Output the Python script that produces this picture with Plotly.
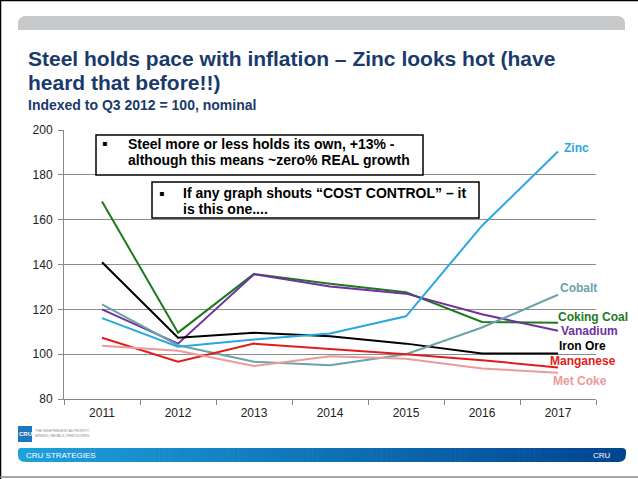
import plotly.graph_objects as go

# ---------------- data ----------------
years = ["2011", "2012", "2013", "2014", "2015", "2016", "2017"]
zinc = [116.1, 103.3, 106.5, 109.2, 116.9, 157.3, 190.4]
coking_coal = [168.1, 109.6, 135.8, 131.4, 127.6, 114.4, 114.0]
vanadium = [120.0, 104.7, 135.6, 130.2, 127.0, 117.8, 110.4]
iron_ore = [141.0, 107.3, 109.5, 108.0, 104.7, 100.3, 100.3]
cobalt = [122.2, 104.0, 96.6, 95.1, 100.0, 111.9, 126.5]
manganese = [107.3, 96.6, 104.7, 102.5, 100.0, 97.3, 94.1]
met_coke = [103.7, 101.5, 94.7, 99.1, 98.0, 93.6, 91.7]

series_names = ["Coking Coal", "Vanadium", "Iron Ore", "Cobalt", "Manganese", "Met Coke", "Zinc"]
series_values = [coking_coal, vanadium, iron_ore, cobalt, manganese, met_coke, zinc]

title_line1 = "Steel holds pace with inflation \u2013 Zinc looks hot (have"
title_line2 = "heard that before!!)"
subtitle = "Indexed to Q3 2012 = 100, nominal"
box1_lines = ["Steel more or less holds its own, +13% -", "although this means ~zero% REAL growth"]
box2_lines = ["If any graph shouts \u201cCOST CONTROL\u201d \u2013 it", "is this one...."]

# ---------------- styles ----------------
W, H = 638, 479
L, R, T, B = 64, 42, 130, 80
PW, PH = W - L - R, H - T - B

colors = {
    "Zinc": "#2aa8e0",
    "Coking Coal": "#1c7a1c",
    "Vanadium": "#7030a0",
    "Iron Ore": "#000000",
    "Cobalt": "#68a4a9",
    "Manganese": "#e41b1b",
    "Met Coke": "#ec9a9a",
}
# label offsets (pixels) relative to the 2017 end point
label_shift = {
    "Zinc": (4, 4),
    "Cobalt": (0, 7),
    "Coking Coal": (-2, 6),
    "Vanadium": (1, 0),
    "Iron Ore": (-1, 7),
    "Manganese": (-10, 6),
    "Met Coke": (-7, -8),
}

FONT = "Liberation Sans, Arial, sans-serif"
NARROW = "Liberation Sans Narrow, Arial Narrow, Liberation Sans, Arial, sans-serif"
NAVY = "#1a3a6c"


def X(p):
    return (p - L) / PW


def Y(p):
    return (H - B - p) / PH


fig = go.Figure()
for name, vals in zip(series_names, series_values):
    fig.add_trace(go.Scatter(x=years, y=vals, mode="lines", name=name,
                             line=dict(color=colors[name], width=2),
                             hoverinfo="skip"))

annotations = []
shapes = []

# series labels (x given as category index of the last year)
last_idx = len(years) - 1
for name, vals in zip(series_names, series_values):
    dx, dy = label_shift[name]
    annotations.append(dict(x=last_idx, y=vals[-1], xref="x", yref="y",
                            text=name, showarrow=False, xanchor="left", yanchor="middle",
                            xshift=dx, yshift=dy,
                            font=dict(family=FONT, size=12, color=colors[name], weight="bold")))

# title texts
for txt, yy, sz in [(title_line1, 58.5, 21), (title_line2, 82.5, 21), (subtitle, 104.5, 14)]:
    annotations.append(dict(x=X(26), y=Y(yy), xref="paper", yref="paper", text=txt,
                            showarrow=False, xanchor="left", yanchor="middle",
                            font=dict(family=FONT, size=sz, color=NAVY, weight="bold")))

# text boxes
shapes.append(dict(type="rect", xref="paper", yref="paper", x0=X(96), x1=X(423), y0=Y(135), y1=Y(175),
                   line=dict(color="black", width=1.5), fillcolor="white", layer="above"))
shapes.append(dict(type="rect", xref="paper", yref="paper", x0=X(152), x1=X(479), y0=Y(182), y1=Y(218),
                   line=dict(color="black", width=1.5), fillcolor="white", layer="above"))


def box_text(lines, bullet_x, text_x, ys):
    out = []
    out.append(dict(x=X(bullet_x), y=Y(ys[0]), xref="paper", yref="paper", text="\u25aa",
                    showarrow=False, xanchor="center", yanchor="middle",
                    font=dict(family="DejaVu Sans", size=8, color="black")))
    for ln, yy in zip(lines, ys):
        out.append(dict(x=X(text_x), y=Y(yy), xref="paper", yref="paper", text=ln,
                        showarrow=False, xanchor="left", yanchor="middle",
                        font=dict(family=FONT, size=14, color="black", weight="bold")))
    return out


annotations += box_text(box1_lines, 104, 126, [143.5, 159.5])
annotations += box_text(box2_lines, 161, 181, [193, 209])


# ---------------- decorations ----------------
def rounded_path(x0, y0, x1, y1, rtl, rtr, rbr, rbl):
    # pixel coords, y0 top, y1 bottom; uses quadratic curves for corners
    P = lambda x, y: f"{X(x):.5f},{Y(y):.5f}"
    d = f"M {P(x0 + rtl, y0)} L {P(x1 - rtr, y0)} Q {P(x1, y0)} {P(x1, y0 + rtr)} "
    d += f"L {P(x1, y1 - rbr)} Q {P(x1, y1)} {P(x1 - rbr, y1)} "
    d += f"L {P(x0 + rbl, y1)} Q {P(x0, y1)} {P(x0, y1 - rbl)} "
    d += f"L {P(x0, y0 + rtl)} Q {P(x0, y0)} {P(x0 + rtl, y0)} Z"
    return d


# header grey bar
shapes.append(dict(type="path", xref="paper", yref="paper",
                   path=rounded_path(18, 16, 625, 30, 8, 8, 0, 0),
                   fillcolor="#c8c9cb", line=dict(width=0), layer="below"))

# footer gradient bar
c0 = (0x1e, 0xa0, 0xdc)
c1 = (0x00, 0x45, 0x90)
bx0, bx1, by0, by1 = 18, 626, 448, 462


def mix(t):
    return "rgb(%d,%d,%d)" % tuple(round(a + (b - a) * t) for a, b in zip(c0, c1))


shapes.append(dict(type="path", xref="paper", yref="paper",
                   path=rounded_path(bx0, by0, bx0 + 14, by1, 3, 0, 0, 7),
                   fillcolor=mix(0), line=dict(width=0), layer="below"))
shapes.append(dict(type="path", xref="paper", yref="paper",
                   path=rounded_path(bx1 - 14, by0, bx1, by1, 0, 4, 8, 0),
                   fillcolor=mix(1), line=dict(width=0), layer="below"))
N = 120
sx0, sx1 = bx0 + 8, bx1 - 8
for i in range(N):
    a = sx0 + (sx1 - sx0) * i / N
    b = sx0 + (sx1 - sx0) * (i + 1) / N + 0.6
    shapes.append(dict(type="rect", xref="paper", yref="paper", x0=X(a), x1=X(b), y0=Y(by0), y1=Y(by1),
                       fillcolor=mix((i + 0.5) / N), line=dict(width=0), layer="below"))

annotations.append(dict(x=X(24), y=Y(455.5), xref="paper", yref="paper", text="CRU STRATEGIES",
                        showarrow=False, xanchor="left", yanchor="middle",
                        font=dict(family=NARROW, size=8, color="white")))
annotations.append(dict(x=X(613), y=Y(455), xref="paper", yref="paper", text="CRU",
                        showarrow=False, xanchor="right", yanchor="middle",
                        font=dict(family=FONT, size=8, color="white")))

# logo
shapes.append(dict(type="rect", xref="paper", yref="paper", x0=X(18), x1=X(32), y0=Y(426), y1=Y(442),
                   fillcolor="#1f78bd", line=dict(width=0), layer="below"))
annotations.append(dict(x=X(25), y=Y(434), xref="paper", yref="paper", text="CRU",
                        showarrow=False, xanchor="center", yanchor="middle",
                        font=dict(family=NARROW, size=6, color="white", weight="bold")))
annotations.append(dict(x=X(33), y=Y(430.5), xref="paper", yref="paper", text="THE INDEPENDENT AUTHORITY",
                        showarrow=False, xanchor="left", yanchor="middle",
                        font=dict(family=NARROW, size=3.5, color="#8a8a8a")))
annotations.append(dict(x=X(33), y=Y(435.5), xref="paper", yref="paper", text="MINING | METALS | FERTILIZERS",
                        showarrow=False, xanchor="left", yanchor="middle",
                        font=dict(family=NARROW, size=3.5, color="#8a8a8a")))

# slide border lines
shapes.append(dict(type="line", xref="paper", yref="paper", x0=X(0), x1=X(W), y0=Y(0.5), y1=Y(0.5),
                   line=dict(color="black", width=1.5), layer="above"))
shapes.append(dict(type="line", xref="paper", yref="paper", x0=X(0.5), x1=X(0.5), y0=Y(0), y1=Y(H),
                   line=dict(color="black", width=1.5), layer="above"))
shapes.append(dict(type="line", xref="paper", yref="paper", x0=X(0), x1=X(W), y0=Y(477), y1=Y(477),
                   line=dict(color="#8a8a8a", width=1.5), layer="above"))

fig.update_layout(
    width=W, height=H, autosize=False,
    margin=dict(l=L, r=R, t=T, b=B, pad=0),
    paper_bgcolor="white", plot_bgcolor="white",
    showlegend=False,
    font=dict(family=FONT, size=12, color="#222"),
    annotations=annotations,
    shapes=shapes,
    xaxis=dict(type="category", range=[-0.5, 6.5], tickson="boundaries", ticks="outside",
               ticklen=5, tickcolor="#888", showline=True, linecolor="#888", linewidth=1,
               showgrid=False, zeroline=False, ticklabelstandoff=3,
               tickfont=dict(size=12, color="#222")),
    yaxis=dict(range=[80, 200], tick0=80, dtick=20, showgrid=True, gridcolor="#8c8c8c", gridwidth=1,
               showline=True, linecolor="#888", linewidth=1, ticks="outside", ticklen=5,
               tickcolor="#888", zeroline=False, ticklabelstandoff=3,
               tickfont=dict(size=12, color="#222")),
)

fig.write_html(
    "out.html",
    config={"displayModeBar": False},
    post_script="document.body.style.margin='0';document.body.style.overflow='hidden';",
)
